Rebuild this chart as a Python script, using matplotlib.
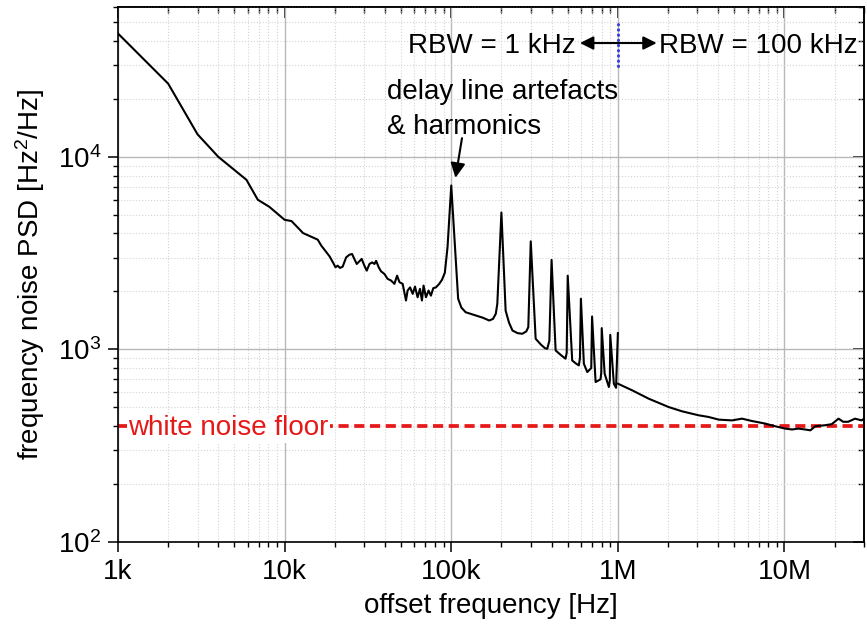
import matplotlib
matplotlib.use("Agg")
import matplotlib.pyplot as plt
from matplotlib.ticker import FixedLocator, FixedFormatter, LogLocator, NullFormatter

plt.rcParams['font.family'] = ['Liberation Sans', 'DejaVu Sans']
plt.rcParams['mathtext.default'] = 'regular'

# ---- data ----
freq_low = [1000, 2000, 3000, 4000, 5900, 6900, 8100, 10000, 11000, 12900, 15800,
            16600, 18600, 19500, 20200, 20800, 21500, 22300, 23400, 24500, 25400,
            26200, 27100, 28100, 29000, 30100, 31100, 32300, 33500, 34600, 35400,
            36700, 37900, 39700, 41500, 43500, 45600, 47300, 48900, 51100, 53500,
            54700, 56600, 58700, 60600, 62800, 64900, 66700, 68200, 70500, 73100,
            75500, 78000, 80900, 84700, 88000, 91500, 95000, 100000, 110000, 115000,
            122000, 140600, 155000, 169000, 178000, 185000, 189000, 200000, 212000,
            222000, 233000, 250000, 267000, 282000, 290000, 300000, 321000, 345000,
            365000, 377000, 388000, 400000, 423000, 455000, 485000, 493000, 500000,
            532000, 560000, 583000, 592000, 600000, 625000, 655000, 692000, 700000,
            735000, 787000, 795000, 800000, 833000, 883000, 895000, 900000, 946000,
            975000, 1000000]
psd_low = [43700, 24000, 13100, 10000, 7600, 5990, 5500, 4710, 4640, 4020, 3716,
           3459, 3045, 2831, 2670, 2723, 2650, 2690, 3006, 3104, 3130,
           2951, 2778, 2868, 2951, 2723, 2565, 2778, 2831, 2778, 2884,
           2670, 2544, 2466, 2325, 2280, 2190, 2415, 2234, 2190, 1795,
           2022, 2100, 1944, 2120, 1866, 2063, 1795, 2145, 1866, 2022,
           1902, 2080, 2100, 2190, 2300, 2500, 3400, 7100, 1833, 1650,
           1560, 1500, 1460, 1413, 1440, 1530, 1725, 5140, 1591,
           1380, 1254, 1215, 1206, 1240, 1305, 3642, 1136, 1060,
           1015, 1008, 1110, 2916, 988, 935, 895, 960, 2415,
           876, 845, 826, 900, 1833, 843, 763, 800, 1482,
           677, 700, 760, 1290, 748, 638, 690, 1190, 663,
           632, 1215]

freq_high = [1.0e6, 1.22e6, 1.53e6, 2.02e6, 2.43e6, 3.05e6, 3.5e6, 4.03e6, 4.84e6,
             5.56e6, 6.37e6, 7.66e6, 8.8e6, 10.1e6, 11.1e6, 12.1e6, 13.3e6, 14.3e6,
             15.3e6, 17.5e6, 19.2e6, 21.1e6, 22.5e6, 24.1e6, 26.5e6, 29e6, 30e6]
psd_high = [664, 613, 555, 502, 477, 455, 446, 432, 428,
            437, 425, 412, 399, 388, 384, 388, 384, 380,
            399, 404, 409, 437, 421, 421, 437, 428, 437]

noise_floor = 400
xtick_vals = [1e3, 1e4, 1e5, 1e6, 1e7]
xtick_labels = ['1k', '10k', '100k', '1M', '10M']
rbw_switch = 1e6

# ---- figure ----
fig = plt.figure(figsize=(8.67, 6.27), dpi=100)
ax = fig.add_axes([118/867, 85/627, (864-118)/867, (542-7)/627])

ax.set_xscale('log')
ax.set_yscale('log')
ax.set_xlim(1e3, 3e7)
ax.set_ylim(1e2, 6e4)

# grid
ax.grid(True, which='major', color='#b8b8b8', lw=1.0, ls='-', zorder=0)
ax.grid(True, which='minor', color='#d4d4d4', lw=0.8, ls=':', zorder=0)
ax.set_axisbelow(True)

# noise floor
ax.axhline(noise_floor, color='#e61919', lw=2.7, ls=(0, (2.7, 1.5)), zorder=2)
ax.text(1150, 358, 'white noise floor', color='#e61919', fontsize=20,
        ha='left', va='baseline', zorder=3,
        bbox=dict(facecolor='white', edgecolor='none', pad=1.0))

# data
ax.plot(freq_low, psd_low, color='black', lw=1.5, zorder=4)
ax.plot(freq_high, psd_high, color='black', lw=1.5, zorder=4)

# RBW annotations
ax.plot([rbw_switch, rbw_switch], [29600, 50700], color='#3a3ae0', lw=2.2,
        ls=(0, (0.1, 1.6)), dash_capstyle='round', zorder=5)
ax.annotate('', xy=(592e3, 39000), xytext=(1.71e6, 39000),
            arrowprops=dict(arrowstyle='<|-|>', color='black', lw=1.5,
                            mutation_scale=20, shrinkA=0, shrinkB=0), zorder=6)
ax.text(561e3, 34700, 'RBW = 1 kHz', fontsize=20, ha='right', va='baseline')
ax.text(1.76e6, 34700, 'RBW = 100 kHz', fontsize=20, ha='left', va='baseline')

ax.text(41.4e3, 19900, 'delay line artefacts', fontsize=20, ha='left', va='baseline')
ax.text(41.4e3, 13110, '& harmonics', fontsize=20, ha='left', va='baseline')
ax.annotate('', xy=(106e3, 7780), xytext=(116e3, 12500),
            arrowprops=dict(arrowstyle='-|>', color='black', lw=1.5,
                            mutation_scale=22, shrinkA=0, shrinkB=0))

# ticks
ax.xaxis.set_major_locator(FixedLocator(xtick_vals))
ax.xaxis.set_major_formatter(FixedFormatter(xtick_labels))
ax.xaxis.set_minor_locator(LogLocator(base=10, subs=range(2, 10), numticks=20))
ax.xaxis.set_minor_formatter(NullFormatter())
ax.yaxis.set_major_locator(LogLocator(base=10, numticks=10))
ax.yaxis.set_minor_locator(LogLocator(base=10, subs=range(2, 10), numticks=20))
ax.yaxis.set_minor_formatter(NullFormatter())

ax.tick_params(which='major', direction='out', length=7, width=1.1,
               labelsize=20, pad=5)
ax.tick_params(which='minor', direction='out', length=3.6, width=1.0)
for s in ax.spines.values():
    s.set_linewidth(1.2)

sx = ax.secondary_xaxis('top')
sx.set_xticks(xtick_vals)
sx.xaxis.set_minor_locator(LogLocator(base=10, subs=range(2, 10), numticks=20))
sx.tick_params(which='major', direction='in', length=8, width=1.1, labeltop=False)
sx.tick_params(which='minor', direction='in', length=4, width=1.0)
sx.xaxis.set_major_formatter(NullFormatter())
sx.xaxis.set_minor_formatter(NullFormatter())
sx.spines['top'].set_linewidth(1.2)

sy = ax.secondary_yaxis('right')
sy.yaxis.set_major_locator(LogLocator(base=10, numticks=10))
sy.yaxis.set_minor_locator(LogLocator(base=10, subs=range(2, 10), numticks=20))
sy.tick_params(which='major', direction='in', length=8, width=1.1, labelright=False)
sy.tick_params(which='minor', direction='in', length=4, width=1.0)
sy.yaxis.set_major_formatter(NullFormatter())
sy.yaxis.set_minor_formatter(NullFormatter())
sy.spines['right'].set_linewidth(1.2)

ax.set_xlabel('offset frequency [Hz]', fontsize=20, labelpad=6)
ax.set_ylabel('frequency noise PSD [Hz$^2$/Hz]', fontsize=20, labelpad=8)

fig.savefig('out.png', dpi=100)
